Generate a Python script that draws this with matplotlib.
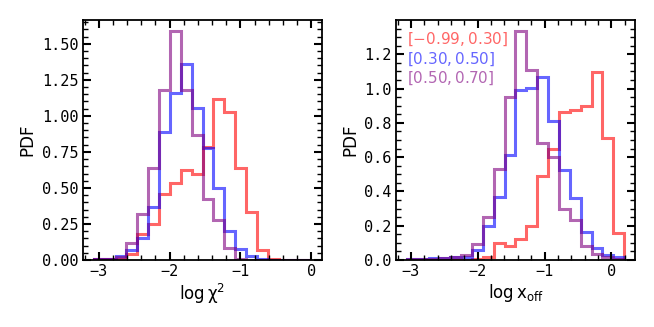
import numpy as np
import matplotlib
matplotlib.use("Agg")
import matplotlib.pyplot as plt
from matplotlib.ticker import AutoMinorLocator, MultipleLocator

# bin edges (log scale)
edges_chi2 = np.linspace(-3.07, 0.0, 21)
edges_xoff = np.linspace(-3.06, 0.19, 21)

labels = [r"$[-0.99, 0.30]$", r"$[0.30, 0.50]$", r"$[0.50, 0.70]$"]
colors = ["red", "blue", "purple"]

# PDF values per bin, log chi^2 panel
chi2_red = [0.01, 0.005, 0.005, 0.045, 0.18, 0.25, 0.455, 0.535, 0.625, 0.60,
            0.785, 1.115, 1.025, 0.64, 0.335, 0.07, 0.005, 0.0, 0.0, 0.0]
chi2_blue = [0.005, 0.01, 0.03, 0.07, 0.155, 0.37, 0.885, 1.16, 1.36, 1.055,
             0.78, 0.50, 0.20, 0.075, 0.025, 0.005, 0.0, 0.0, 0.0, 0.0]
chi2_purple = [0.005, 0.01, 0.02, 0.115, 0.32, 0.635, 1.18, 1.586, 1.177, 0.865,
               0.425, 0.275, 0.08, 0.01, 0.0, 0.0, 0.0, 0.0, 0.0, 0.0]

# PDF values per bin, log x_off panel
xoff_red = [0.0, 0.0, 0.0, 0.0, 0.0, 0.0, 0.005, 0.015, 0.10, 0.08,
            0.125, 0.20, 0.49, 0.65, 0.865, 0.875, 0.90, 1.095, 0.71, 0.155]
xoff_blue = [0.003, 0.003, 0.01, 0.01, 0.015, 0.02, 0.06, 0.20, 0.37, 0.61,
             0.99, 1.005, 1.065, 0.81, 0.525, 0.36, 0.165, 0.07, 0.03, 0.02]
xoff_purple = [0.003, 0.003, 0.005, 0.01, 0.015, 0.03, 0.095, 0.25, 0.53, 0.95,
               1.333, 1.11, 0.685, 0.60, 0.295, 0.233, 0.082, 0.033, 0.015, 0.008]

plt.rcParams["font.family"] = "DejaVu Sans Mono"
plt.rcParams["mathtext.fontset"] = "dejavusans"

fig = plt.figure(figsize=(6.54, 3.27), dpi=100)
ax1 = fig.add_axes([83 / 654, 67 / 327, 239 / 654, 240 / 327])
ax2 = fig.add_axes([396 / 654, 67 / 327, 239 / 654, 240 / 327])

for vals, c, lab in zip([chi2_red, chi2_blue, chi2_purple], colors, labels):
    ax1.stairs(vals, edges_chi2, color=c, alpha=0.6, lw=2.2, label=lab)
for vals, c, lab in zip([xoff_red, xoff_blue, xoff_purple], colors, labels):
    ax2.stairs(vals, edges_xoff, color=c, alpha=0.6, lw=2.2, label=lab)

ax1.set_xlabel(r"$\mathrm{log}\,\mathrm{\chi}^2$", fontsize=12, labelpad=2)
ax2.set_xlabel(r"$\mathrm{log}\,\mathrm{x}_{\mathrm{off}}$", fontsize=12,
               labelpad=2)
for ax in (ax1, ax2):
    ax.set_ylabel("PDF", fontsize=12, family="DejaVu Sans")
    ax.xaxis.set_major_locator(MultipleLocator(1))
    ax.xaxis.set_minor_locator(AutoMinorLocator())
    ax.yaxis.set_minor_locator(AutoMinorLocator())
    ax.tick_params(which="both", direction="in", top=True, right=True,
                   labelsize=11)
    ax.tick_params(which="major", length=6, width=1.5, pad=3)
    ax.tick_params(which="minor", length=3.5, width=1)
    for s in ax.spines.values():
        s.set_linewidth(1.3)
ax1.yaxis.set_major_locator(MultipleLocator(0.25))
ax2.yaxis.set_major_locator(MultipleLocator(0.2))

leg = ax2.legend(loc="upper left", frameon=False, handlelength=0,
                 handletextpad=0, fontsize=11, labelcolor="linecolor",
                 borderaxespad=0.3, labelspacing=0.15)
for h in leg.legend_handles:
    h.set_visible(False)

fig.savefig("out.png", dpi=100)
